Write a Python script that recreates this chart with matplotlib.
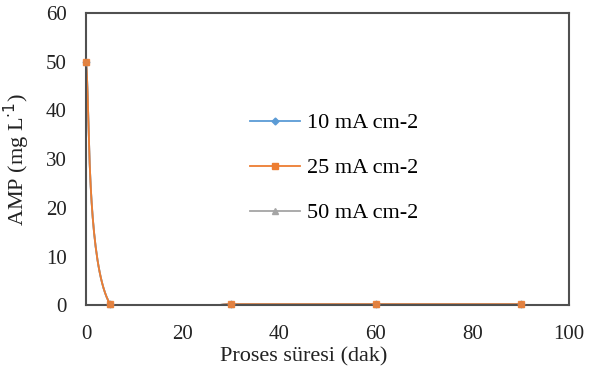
import matplotlib.pyplot as plt
import numpy as np

plt.rcParams['font.family'] = ['Liberation Serif', 'DejaVu Serif']

# data
t = [0, 5, 30, 60, 90]
amp_10 = [50, 0.2, 0.2, 0.2, 0.2]
amp_25 = [50, 0.2, 0.2, 0.2, 0.2]
amp_50 = [50, 0.2, 0.2, 0.2, 0.2]
labels = ['10 mA cm-2', '25 mA cm-2', '50 mA cm-2']


def smooth(x, y, n=40):
    # catmull-rom style smoothing like excel's smoothed line
    x = np.asarray(x, float)
    y = np.asarray(y, float)
    px = np.concatenate([[x[0]], x, [x[-1]]])
    py = np.concatenate([[y[0]], y, [y[-1]]])
    xs, ys = [], []
    s = np.linspace(0, 1, n)
    for i in range(1, len(px) - 2):
        p0 = np.array([px[i - 1], py[i - 1]])
        p1 = np.array([px[i], py[i]])
        p2 = np.array([px[i + 1], py[i + 1]])
        p3 = np.array([px[i + 2], py[i + 2]])
        c1 = p1 + (p2 - p0) / 6
        c2 = p2 - (p3 - p1) / 6
        b = ((1 - s) ** 3)[:, None] * p1 + (3 * (1 - s) ** 2 * s)[:, None] * c1 \
            + (3 * (1 - s) * s ** 2)[:, None] * c2 + (s ** 3)[:, None] * p2
        xs.extend(b[:, 0])
        ys.extend(b[:, 1])
    return xs, ys


fig = plt.figure(figsize=(5.89, 3.74), dpi=100)
ax = fig.add_axes([0.146, 0.184, 0.820, 0.781])

series = [(amp_10, '#5b9bd5', 'D', 3.5), (amp_50, '#a5a5a5', '^', 4.5), (amp_25, '#ed7d31', 's', 5)]
order = [0, 2, 1]
handles = {}
for (yv, col, mk, ms), k in zip(series, order):
    sx, sy = smooth(t, yv)
    ax.plot(sx, sy, color=col, lw=1.3, zorder=2)
    ax.plot(t, yv, ls='none', marker=mk, ms=ms, color=col, alpha=0.85, zorder=3, clip_on=False)
    h, = ax.plot([], [], color=col, lw=1.3, marker=mk, ms=ms)
    handles[k] = h

ax.set_xlim(0, 100)
ax.set_ylim(0, 60)
ax.set_xticks(range(0, 101, 20))
ax.set_yticks(range(0, 61, 10))
ax.tick_params(length=0, labelsize=15, pad=14, labelcolor='#222222')
for sp in ax.spines.values():
    sp.set_color('#505050')
    sp.set_linewidth(1.5)

ax.set_xlabel('Proses süresi (dak)', fontsize=16, color='#222222')
ax.xaxis.set_label_coords(0.45, -0.145)
ax.set_ylabel('AMP (mg L$^{\\cdot1}$)', fontsize=16, labelpad=10, color='#222222')

ax.legend([handles[i] for i in range(3)], labels, frameon=False, fontsize=16,
          loc='center', bbox_to_anchor=(334 / 589, 1 - 168 / 374),
          bbox_transform=fig.transFigure, handlelength=2.25,
          labelspacing=1.1, handletextpad=0.3)

fig.savefig('out.png', dpi=100)
